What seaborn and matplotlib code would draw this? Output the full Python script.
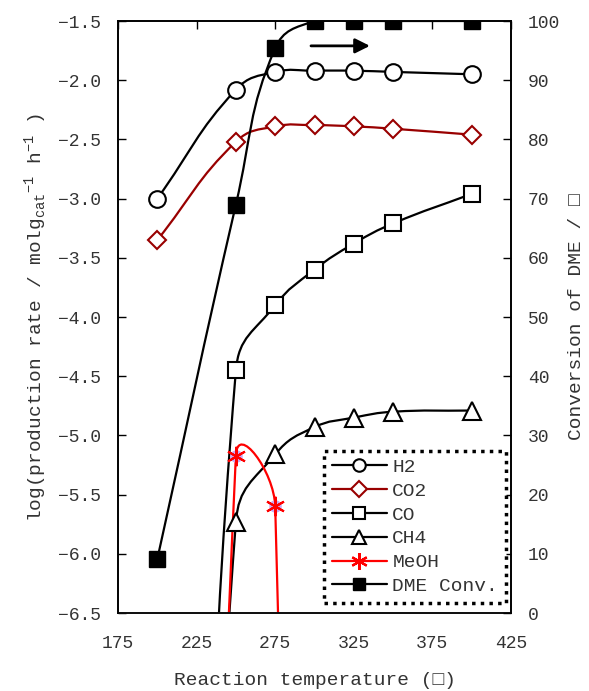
import numpy as np
import matplotlib
matplotlib.use("Agg")
import matplotlib.pyplot as plt
from matplotlib.path import Path
from matplotlib.patches import PathPatch
from matplotlib.lines import Line2D
import seaborn as sns

# ---- dados ----
temp = [200, 250, 275, 300, 325, 350, 400]
h2 = [-3.00, -2.08, -1.93, -1.92, -1.92, -1.93, -1.95]
co2 = [-3.35, -2.52, -2.39, -2.38, -2.39, -2.41, -2.46]
# CO, CH4 e MeOH tem pontos fora da escala (abaixo de -6.5) a 225 / 300 C
temp_co = [225, 250, 275, 300, 325, 350, 400]
co = [-12.0, -4.45, -3.90, -3.60, -3.38, -3.21, -2.96]
ch4 = [-14.0, -5.73, -5.16, -4.93, -4.85, -4.80, -4.79]
temp_meoh = [225, 250, 275, 300]
meoh = [-20.0, -5.17, -5.60, -30.0]
dme = [9.1, 69.0, 95.4, 100, 100, 100, 100]

XMIN, XMAX = 175, 425
YMIN, YMAX = -6.5, -1.5
TXT = '#333333'

sns.set_theme(style="white")
plt.rcParams['font.family'] = ['Liberation Mono', 'DejaVu Sans']
plt.rcParams['mathtext.fontset'] = 'custom'
plt.rcParams['mathtext.rm'] = 'Liberation Mono'

fig = plt.figure(figsize=(5.89, 6.91), dpi=100)
ax = fig.add_axes([118 / 589, 78 / 691, 393 / 589, 592 / 691])
ax2 = ax.twinx()


def smooth_curve(axis, xs, ys, sy, color, lw=1.6, f=0.45):
    # curva suavizada tipo Excel (Bezier), calculada em escala de pixels
    sx = 393 / (XMAX - XMIN)
    P = np.column_stack([np.array(xs) * sx, np.array(ys) * sy])
    n = len(P)
    verts = [P[0]]
    codes = [Path.MOVETO]
    for i in range(n - 1):
        p1, p2 = P[i], P[i + 1]
        p0 = P[i - 1] if i > 0 else p1
        p3 = P[i + 2] if i + 2 < n else p2
        d01 = np.linalg.norm(p1 - p0)
        d12 = np.linalg.norm(p2 - p1)
        d23 = np.linalg.norm(p3 - p2)
        c1 = p1 + (p2 - p0) * f * d12 / (d01 + d12)
        c2 = p2 - (p3 - p1) * f * d12 / (d12 + d23)
        verts += [c1, c2, p2]
        codes += [Path.CURVE4] * 3
    verts = np.array(verts) / np.array([sx, sy])
    axis.add_patch(PathPatch(Path(verts, codes), fill=False, edgecolor=color,
                             lw=lw, zorder=2, capstyle='round'))


sy_left = 592 / (YMAX - YMIN)
sy_right = 592 / 100

smooth_curve(ax, temp, h2, sy_left, 'black')
smooth_curve(ax, temp, co2, sy_left, '#990000')
smooth_curve(ax, temp_co, co, sy_left, 'black')
smooth_curve(ax, temp_co, ch4, sy_left, 'black')
smooth_curve(ax, temp_meoh, meoh, sy_left, 'red', f=0.55)
smooth_curve(ax2, temp, dme, sy_right, 'black')

mk = dict(linestyle='', zorder=3)
ax.plot(temp, h2, marker='o', ms=12, mfc='white', mec='black', mew=1.5, **mk)
ax.plot(temp, co2, marker='D', ms=9.5, mfc='white', mec='#990000', mew=1.5, **mk)
ax.plot(temp_co, co, marker='s', ms=11, mfc='white', mec='black', mew=1.5, **mk)
ax.plot(temp_co, ch4, marker='^', ms=13, mfc='white', mec='black', mew=1.5, **mk)
ax.plot(temp_meoh, meoh, marker='o', ms=9, mfc='#c9a8f5', mec='none', **mk)
ax.plot(temp_meoh, meoh, marker=(6, 2, 0), ms=14, mec='red', mew=1.5, **mk)
ax2.plot(temp, dme, marker='s', ms=11, mfc='black', mec='black', **mk)

ax.set_xlim(XMIN, XMAX)
ax.set_ylim(YMIN, YMAX)
ax2.set_ylim(0, 100)
ax.set_xticks(np.arange(175, 426, 50))
ax.set_yticks(np.arange(-6.5, -1.49, 0.5))
ax.set_yticklabels([f"{v:.1f}".replace('-', '\u2212') for v in np.arange(-6.5, -1.49, 0.5)])
ax2.set_yticks(np.arange(0, 101, 10))

ax.tick_params(axis='x', direction='in', top=True, bottom=False, length=6,
               width=1, colors='black', labelcolor=TXT, labelsize=13, pad=16)
ax.tick_params(axis='y', direction='in', left=True, length=6, width=1,
               colors='black', labelcolor=TXT, labelsize=13, pad=12)
ax2.tick_params(axis='y', direction='in', right=True, length=6, width=1,
                colors='black', labelcolor=TXT, labelsize=13, pad=12)
for a in (ax, ax2):
    for s in a.spines.values():
        s.set_color('black')
        s.set_linewidth(1.2)
ax.spines['bottom'].set_color('#555555')

ax.set_xlabel("Reaction temperature (\u25a1)", fontsize=14, color=TXT, labelpad=14)
ax.set_ylabel(r"log(production rate / molg$_{\rm cat}$$^{-1}$ h$^{-1}$ )",
              fontsize=14, color=TXT, labelpad=6)
ax2.set_ylabel("Conversion of DME / \u25a1", fontsize=14, color=TXT, labelpad=6)

# seta indicando o eixo da direita
ax2.annotate("", xy=(337, 95.8), xytext=(296, 95.8),
             arrowprops=dict(arrowstyle='-|>', lw=2, color='black', mutation_scale=22))

handles = [
    Line2D([], [], color='black', lw=1.6, marker='o', ms=9, mfc='white', mec='black', mew=1.5),
    Line2D([], [], color='#990000', lw=1.6, marker='D', ms=8, mfc='white', mec='#990000', mew=1.5),
    Line2D([], [], color='black', lw=1.6, marker='s', ms=9, mfc='white', mec='black', mew=1.5),
    Line2D([], [], color='black', lw=1.6, marker='^', ms=10, mfc='white', mec='black', mew=1.5),
    Line2D([], [], color='red', lw=1.6, marker=(6, 2, 0), ms=12, mec='red', mew=1.6),
    Line2D([], [], color='black', lw=1.6, marker='s', ms=9, mfc='black', mec='black'),
]
labels = ["H2", "CO2", "CO", "CH4", "MeOH", "DME Conv."]
leg = ax2.legend(handles, labels, loc='lower right', bbox_to_anchor=(0.987, 0.017),
                 borderaxespad=0, fontsize=14, frameon=True, fancybox=False,
                 handlelength=2.8, handletextpad=0.3, labelspacing=0.32,
                 borderpad=0.4, framealpha=1, labelcolor=TXT)
frame = leg.get_frame()
frame.set_edgecolor('black')
frame.set_linewidth(2.5)
frame.set_linestyle((0, (1, 1.5)))
leg.set_zorder(10)

fig.savefig("out.png", dpi=100)
